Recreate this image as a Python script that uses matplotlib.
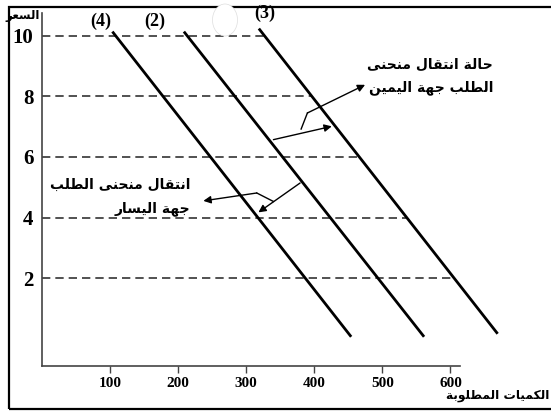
import numpy as np
import matplotlib
matplotlib.use('Agg')
import matplotlib.pyplot as plt
from matplotlib.patches import Rectangle, Ellipse

# price levels with dashed guides
prices = [10, 8, 6, 4, 2]
x_ticks = [100, 200, 300, 400, 500, 600]

# demand curves: quantity/price at top and bottom end
curve_labels = ['(4)', '(2)', '(3)']
q_top = [105, 210, 320]
p_top = [10.1, 10.1, 10.2]
q_bottom = [453, 560, 668]
p_bottom = [0.1, 0.1, 0.2]

y_title = 'السعر'
x_title = 'الكميات المطلوبة'
right_note = ['حالة انتقال منحنى', 'الطلب جهة اليمين']
left_note = ['انتقال منحنى الطلب', 'جهة اليسار']

# arabic presentation forms: isolated, final, initial, medial
forms = {
    'ا': ('\uFE8D', '\uFE8E', None, None),
    'ب': ('\uFE8F', '\uFE90', '\uFE91', '\uFE92'),
    'ة': ('\uFE93', '\uFE94', None, None),
    'ت': ('\uFE95', '\uFE96', '\uFE97', '\uFE98'),
    'ج': ('\uFE9D', '\uFE9E', '\uFE9F', '\uFEA0'),
    'ح': ('\uFEA1', '\uFEA2', '\uFEA3', '\uFEA4'),
    'ر': ('\uFEAD', '\uFEAE', None, None),
    'س': ('\uFEB1', '\uFEB2', '\uFEB3', '\uFEB4'),
    'ط': ('\uFEC1', '\uFEC2', '\uFEC3', '\uFEC4'),
    'ع': ('\uFEC9', '\uFECA', '\uFECB', '\uFECC'),
    'ق': ('\uFED5', '\uFED6', '\uFED7', '\uFED8'),
    'ك': ('\uFED9', '\uFEDA', '\uFEDB', '\uFEDC'),
    'ل': ('\uFEDD', '\uFEDE', '\uFEDF', '\uFEE0'),
    'م': ('\uFEE1', '\uFEE2', '\uFEE3', '\uFEE4'),
    'ن': ('\uFEE5', '\uFEE6', '\uFEE7', '\uFEE8'),
    'ه': ('\uFEE9', '\uFEEA', '\uFEEB', '\uFEEC'),
    'و': ('\uFEED', '\uFEEE', None, None),
    'ى': ('\uFEEF', '\uFEF0', None, None),
    'ي': ('\uFEF1', '\uFEF2', '\uFEF3', '\uFEF4'),
}


def shape(text):
    out = []
    for i, c in enumerate(text):
        if c not in forms:
            out.append(c)
            continue
        prev = text[i - 1] if i > 0 else ''
        nxt = text[i + 1] if i + 1 < len(text) else ''
        jp = prev in forms and forms[prev][2] is not None
        jn = nxt in forms and forms[c][2] is not None
        iso, fin, ini, med = forms[c]
        if jp and jn:
            out.append(med)
        elif jp:
            out.append(fin)
        elif jn:
            out.append(ini)
        else:
            out.append(iso)
    return ''.join(out)[::-1]


W, H = 551, 412
fig = plt.figure(figsize=(W / 100, H / 100), dpi=100)
ax = fig.add_axes([41.7 / W, 1 - 366 / H, (460 - 41.7) / W, (366 - 13) / H])
ax.set_xlim(0, 614)
ax.set_ylim(-0.9, 10.75)

serif = 'Liberation Serif'
arab = dict(family='DejaVu Sans', fontweight='bold')

# dashed guides run to the right-most curve
for p in prices:
    x_end = np.interp(p, [p_bottom[2], p_top[2]], [q_bottom[2], q_top[2]])
    ax.plot([0, x_end], [p, p], color='#333333', lw=1.2, ls=(0, (5, 3)), zorder=1)

for lab, qt, pt, qb, pb in zip(curve_labels, q_top, p_top, q_bottom, p_bottom):
    ax.plot([qt, qb], [pt, pb], color='black', lw=2.0, clip_on=False, zorder=3)

label_pos = [(86, 10.47), (166, 10.47), (328, 10.75)]
for lab, (lx, ly) in zip(curve_labels, label_pos):
    ax.text(lx, ly, lab, fontsize=13, fontweight='bold', family=serif,
            ha='center', va='center', clip_on=False)

for s in ['top', 'right']:
    ax.spines[s].set_visible(False)
for s in ['left', 'bottom']:
    ax.spines[s].set_color('#444444')
    ax.spines[s].set_linewidth(1.2)

ax.set_xticks(x_ticks)
ax.set_xticklabels([str(t) for t in x_ticks], fontsize=11, fontweight='bold', family=serif)
ax.set_yticks(prices)
ax.set_yticklabels([str(p) for p in prices], fontsize=15, fontweight='bold', family=serif)
ax.tick_params(axis='x', length=5, width=1, color='#444444', pad=3)
ax.tick_params(axis='y', length=0, pad=6)

# shift arrows
arw = dict(arrowstyle='-|>', color='black', lw=1.0, mutation_scale=11, shrinkA=0, shrinkB=0)
ax.plot([380.8, 390.0], [6.92, 7.45], color='black', lw=1.0, clip_on=False)
ax.annotate('', xy=(474.7, 8.38), xytext=(390.0, 7.45), arrowprops=arw, annotation_clip=False)
ax.annotate('', xy=(425.8, 7.01), xytext=(340.1, 6.57), arrowprops=arw, annotation_clip=False)
ax.annotate('', xy=(318.1, 4.17), xytext=(379.3, 5.14), arrowprops=arw, annotation_clip=False)
ax.plot([340.1, 315.7], [4.53, 4.81], color='black', lw=1.0, clip_on=False)
ax.annotate('', xy=(237.3, 4.55), xytext=(315.7, 4.81), arrowprops=arw, annotation_clip=False)

ax.text(662.8, 9.04, shape(right_note[0]), fontsize=10, ha='right', va='center', clip_on=False, **arab)
ax.text(662.8, 8.28, shape(right_note[1]), fontsize=10, ha='right', va='center', clip_on=False, **arab)
ax.text(217.8, 5.08, shape(left_note[0]), fontsize=10, ha='right', va='center', clip_on=False, **arab)
ax.text(217.8, 4.29, shape(left_note[1]), fontsize=10, ha='right', va='center', clip_on=False, **arab)

fig.text(549 / W, 1 - 396 / H, shape(x_title), fontsize=8.8, ha='right', va='center', **arab)
fig.text(40 / W, 1 - 15 / H, shape(y_title), fontsize=8.5, ha='right', va='center', **arab)

# outer frame (right side cut off)
fig.patches.append(Rectangle((9 / W, 1 - 409 / H), 560 / W, 402 / H, transform=fig.transFigure,
                             fill=False, lw=1.6, edgecolor='black', clip_on=False))
fig.patches.append(Ellipse((225 / W, 1 - 20 / H), 25 / W, 32 / H, transform=fig.transFigure,
                           facecolor='white', edgecolor='#dddddd', lw=0.5, zorder=10))

fig.savefig('out.png', dpi=100)
